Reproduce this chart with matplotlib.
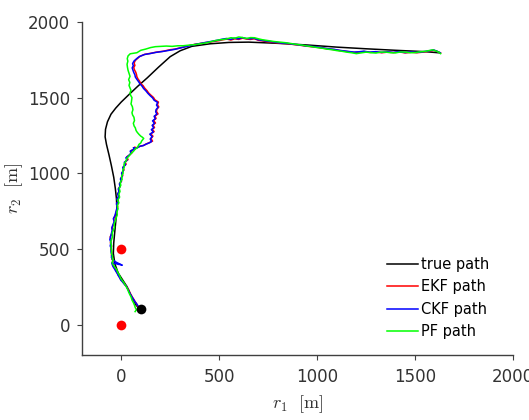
import matplotlib
matplotlib.use('Agg')
import matplotlib.pyplot as plt

# ---DATA---#
# true path (x, y) in metres
true_path = [(97, 99), (75, 130), (55, 180), (30, 250), (5, 300), (-15, 340), (-32, 400), (-40, 470),
             (-38, 540), (-33, 610), (-27, 690), (-22, 760), (-24, 830), (-30, 900), (-38, 973), (-50, 1050),
             (-62, 1120), (-75, 1190), (-82, 1240), (-80, 1290), (-70, 1340), (-52, 1390), (-28, 1430),
             (0, 1470), (40, 1520), (85, 1575), (133, 1630), (190, 1700), (250, 1770), (301, 1809),
             (360, 1838), (454, 1855), (550, 1864), (650, 1866), (800, 1858), (950, 1847), (1100, 1833),
             (1250, 1822), (1400, 1812), (1550, 1803), (1628, 1795)]

# EKF path
ekf_path = [(95, 100), (88, 112), (82, 125), (78, 140), (72, 150), (66, 162), (62, 172), (55, 185), (50, 198),
            (44, 210), (40, 226), (33, 238), (28, 252), (20, 262), (15, 272), (8, 282), (2, 292), (-5, 305),
            (-12, 322), (-18, 335), (-25, 352), (-30, 366), (-38, 382), (-42, 396), (-45, 410), (-41, 420),
            (-47, 432), (-44, 446), (-50, 458), (-48, 478), (-53, 498), (-49, 518), (-55, 540), (-51, 560),
            (-56, 580), (-48, 600), (-44, 620), (-46, 640), (-40, 658), (-35, 680), (-38, 700), (-30, 720),
            (-26, 740), (-22, 760), (-18, 780), (-22, 800), (-14, 815), (-20, 832), (-12, 848), (-16, 865),
            (-10, 880), (-13, 898), (-5, 915), (-8, 932), (2, 948), (-2, 965), (8, 985), (4, 1002), (14, 1022),
            (10, 1040), (25, 1060), (20, 1075), (35, 1090), (28, 1108), (42, 1120), (55, 1135), (50, 1150),
            (72, 1160), (68, 1172), (80, 1168), (92, 1176), (100, 1180), (118, 1185), (125, 1192), (140, 1200),
            (150, 1206), (160, 1212), (152, 1228), (162, 1245), (150, 1260), (168, 1275), (158, 1290),
            (170, 1302), (162, 1318), (175, 1332), (165, 1348), (178, 1362), (172, 1378), (188, 1392),
            (180, 1408), (182, 1422), (192, 1438), (185, 1452), (190, 1470), (172, 1485), (165, 1500),
            (152, 1515), (140, 1530), (132, 1545), (120, 1562), (112, 1578), (100, 1592), (94, 1608),
            (86, 1622), (80, 1638), (78, 1652), (74, 1668), (68, 1682), (64, 1698), (70, 1712), (66, 1728),
            (72, 1745), (85, 1760), (95, 1772), (122, 1786), (150, 1792), (180, 1800), (215, 1806),
            (250, 1816), (275, 1820), (300, 1828), (325, 1836), (350, 1844), (378, 1852), (400, 1856),
            (425, 1862), (450, 1866), (478, 1872), (500, 1876), (520, 1882), (540, 1886), (560, 1880),
            (580, 1888), (600, 1884), (620, 1892), (640, 1886), (660, 1884), (680, 1888), (700, 1878),
            (720, 1874), (740, 1870), (765, 1866), (790, 1862), (820, 1858), (850, 1856), (880, 1850),
            (910, 1846), (940, 1840), (970, 1836), (1000, 1832), (1030, 1826), (1060, 1820), (1090, 1816),
            (1115, 1810), (1140, 1806), (1165, 1802), (1190, 1798), (1215, 1800), (1240, 1804), (1270, 1798),
            (1300, 1801), (1330, 1796), (1360, 1800), (1390, 1797), (1420, 1801), (1450, 1795), (1480, 1799),
            (1510, 1796), (1540, 1800), (1560, 1804), (1580, 1808), (1595, 1812), (1610, 1806), (1620, 1800),
            (1630, 1794)]

# CKF path
ckf_path = [(96, 100), (90, 114), (84, 128), (76, 142), (70, 152), (64, 165), (58, 176), (53, 188), (46, 202),
            (42, 214), (36, 228), (31, 240), (26, 254), (18, 264), (12, 274), (5, 285), (-2, 294), (-8, 310),
            (-15, 324), (-20, 338), (-28, 354), (-34, 368), (-42, 384), (-46, 398), (-48, 408), (-30, 404),
            (-15, 398), (0, 396), (5, 392), (-10, 402), (-28, 414), (-44, 430), (-50, 445), (-47, 462),
            (-52, 480), (-50, 500), (-56, 520), (-52, 542), (-58, 562), (-54, 582), (-50, 602), (-46, 622),
            (-48, 640), (-42, 660), (-36, 680), (-40, 700), (-32, 720), (-28, 740), (-24, 760), (-20, 778),
            (-24, 798), (-16, 814), (-22, 830), (-14, 846), (-18, 864), (-11, 880), (-15, 896), (-6, 912),
            (-9, 930), (0, 946), (-4, 962), (6, 982), (2, 1000), (12, 1020), (8, 1038), (22, 1056), (16, 1072),
            (30, 1086), (24, 1102), (38, 1116), (50, 1132), (46, 1146), (66, 1158), (62, 1168), (76, 1164),
            (88, 1172), (96, 1178), (112, 1182), (120, 1188), (135, 1196), (146, 1202), (155, 1210),
            (148, 1226), (158, 1242), (146, 1258), (164, 1272), (154, 1288), (166, 1300), (158, 1316),
            (170, 1330), (160, 1346), (174, 1360), (168, 1376), (182, 1390), (176, 1406), (178, 1420),
            (188, 1436), (180, 1450), (186, 1468), (168, 1482), (160, 1498), (148, 1512), (136, 1528),
            (126, 1544), (114, 1560), (106, 1576), (96, 1590), (88, 1606), (80, 1620), (72, 1636), (70, 1650),
            (64, 1666), (60, 1680), (56, 1696), (62, 1710), (58, 1724), (66, 1742), (80, 1758), (92, 1770),
            (118, 1784), (146, 1790), (176, 1798), (210, 1804), (246, 1812), (272, 1818), (298, 1826),
            (322, 1834), (348, 1842), (374, 1850), (398, 1856), (422, 1862), (448, 1868), (474, 1874),
            (498, 1880), (518, 1886), (538, 1890), (558, 1884), (578, 1892), (598, 1888), (618, 1896),
            (638, 1890), (658, 1888), (678, 1892), (698, 1882), (718, 1878), (738, 1874), (762, 1870),
            (788, 1866), (818, 1860), (848, 1858), (878, 1852), (908, 1848), (938, 1842), (968, 1838),
            (998, 1834), (1028, 1828), (1058, 1822), (1088, 1818), (1112, 1812), (1138, 1808), (1162, 1804),
            (1188, 1800), (1212, 1802), (1238, 1806), (1268, 1800), (1298, 1803), (1328, 1798), (1358, 1802),
            (1388, 1798), (1418, 1803), (1448, 1797), (1478, 1801), (1508, 1798), (1538, 1802), (1558, 1806),
            (1578, 1810), (1594, 1814), (1608, 1808), (1618, 1802), (1628, 1796)]

# PF path
pf_path = [(71, 86), (78, 98), (72, 112), (68, 128), (62, 146), (56, 160), (50, 184), (44, 198), (38, 215),
           (34, 230), (28, 245), (20, 262), (14, 276), (6, 290), (-2, 305), (-10, 330), (-18, 345), (-22, 362),
           (-30, 375), (-38, 390), (-44, 402), (-46, 414), (-40, 426), (-46, 440), (-44, 456), (-50, 470),
           (-48, 488), (-52, 505), (-50, 525), (-54, 545), (-48, 565), (-44, 585), (-46, 605), (-40, 625),
           (-34, 645), (-36, 665), (-30, 685), (-26, 704), (-20, 725), (-22, 745), (-16, 765), (-20, 785),
           (-12, 805), (-18, 822), (-8, 842), (-12, 862), (-6, 880), (-10, 900), (-2, 920), (-5, 940), (5, 960),
           (2, 980), (10, 1000), (8, 1020), (16, 1040), (14, 1060), (24, 1080), (30, 1100), (40, 1114),
           (50, 1130), (62, 1144), (72, 1160), (84, 1172), (90, 1190), (100, 1200), (104, 1212), (115, 1230),
           (108, 1238), (100, 1245), (92, 1255), (82, 1270), (76, 1282), (72, 1300), (66, 1312), (62, 1330),
           (68, 1348), (65, 1370), (58, 1385), (55, 1400), (60, 1420), (57, 1440), (50, 1458), (52, 1470),
           (55, 1500), (48, 1515), (45, 1530), (50, 1548), (46, 1560), (40, 1580), (44, 1600), (38, 1618),
           (45, 1640), (40, 1660), (35, 1680), (32, 1700), (30, 1720), (34, 1740), (31, 1757), (35, 1775),
           (46, 1789), (60, 1792), (80, 1796), (100, 1812), (125, 1820), (150, 1830), (175, 1836), (199, 1838),
           (230, 1840), (260, 1838), (290, 1842), (316, 1842), (345, 1846), (380, 1850), (405, 1856),
           (430, 1860), (455, 1868), (480, 1876), (505, 1882), (530, 1885), (545, 1890), (560, 1895),
           (580, 1892), (600, 1900), (620, 1896), (640, 1890), (660, 1896), (680, 1895), (700, 1888),
           (720, 1882), (750, 1876), (780, 1870), (810, 1866), (840, 1862), (870, 1856), (900, 1850),
           (925, 1846), (950, 1840), (975, 1836), (1000, 1830), (1025, 1826), (1050, 1820), (1075, 1816),
           (1100, 1810), (1125, 1806), (1150, 1800), (1175, 1796), (1200, 1790), (1225, 1795), (1250, 1800),
           (1275, 1796), (1300, 1794), (1325, 1800), (1350, 1800), (1375, 1796), (1400, 1795), (1425, 1801),
           (1450, 1800), (1475, 1796), (1500, 1797), (1525, 1802), (1550, 1805), (1570, 1810), (1590, 1815),
           (1605, 1808), (1620, 1800), (1630, 1790)]

# sensor positions and start point
sensor_x = [0, 0]
sensor_y = [0, 500]
start_x = [100]
start_y = [100]

############
# PLOTTING #
############
plt.rcParams['mathtext.fontset'] = 'cm'
f = plt.figure(figsize=(5.29, 4.2), dpi=100)
panel = f.add_axes([0.155, 0.155, 0.815, 0.793])

# plot each path
for path, col, lab in [(true_path, 'black', 'true path'),
                       (ekf_path, 'red', 'EKF path'),
                       (ckf_path, 'blue', 'CKF path'),
                       (pf_path, (0, 1, 0), 'PF path')]:
    px, py = zip(*path)
    panel.plot(px, py, color=col, lw=1.1, label=lab)

panel.plot(sensor_x, sensor_y, 'o', color='red', ms=7, mec='none')
panel.plot(start_x, start_y, 'o', color='black', ms=7, mec='none')

panel.set_xlim(-200, 2000)
panel.set_ylim(-200, 2000)
panel.set_xticks([0, 500, 1000, 1500, 2000])
panel.set_yticks([0, 500, 1000, 1500, 2000])
panel.spines['top'].set_visible(False)
panel.spines['right'].set_visible(False)
for s in ['left', 'bottom']:
    panel.spines[s].set_color('0.25')
    panel.spines[s].set_linewidth(1.0)
panel.tick_params(direction='out', length=3.5, width=0.8, colors='0.25', labelsize=12, labelcolor='0.2')
panel.tick_params(axis='x', pad=6)
panel.tick_params(axis='y', pad=5)
panel.set_xlabel(r'$r_1\ \ [\mathrm{m}]$', fontsize=13, color='0.2', labelpad=5)
panel.set_ylabel(r'$r_2\ \ [\mathrm{m}]$', fontsize=13, color='0.2', labelpad=2)

panel.legend(loc='lower left', bbox_to_anchor=(0.695, 0.03), frameon=False, fontsize=10.5,
             handlelength=2.1, handletextpad=0.2, labelspacing=0.5, borderaxespad=0)

f.savefig('out.png', dpi=100)
